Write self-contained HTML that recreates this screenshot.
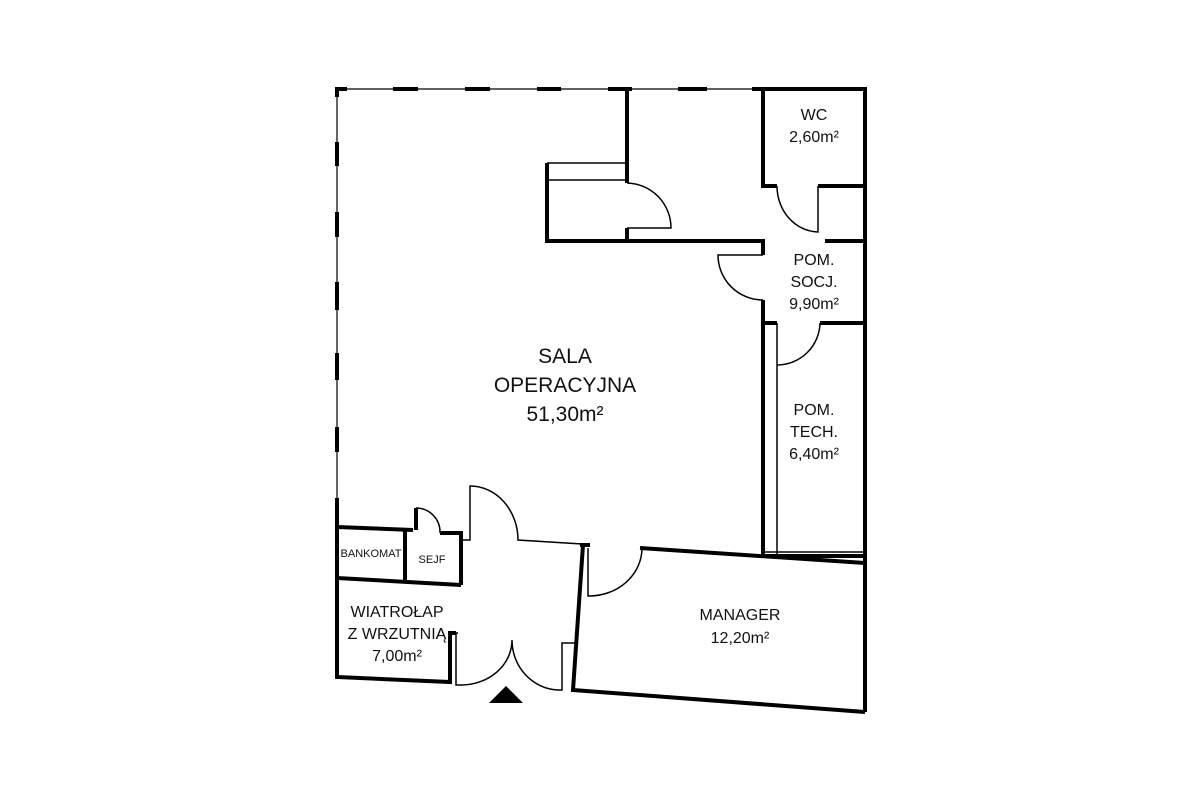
<!DOCTYPE html>
<html><head><style>
body{margin:0;background:#fff}
svg{display:block}
text{font-family:"Liberation Sans",sans-serif;fill:#111;text-anchor:middle}
</style></head><body>
<svg width="1200" height="800" viewBox="0 0 1200 800">
<g fill="none" stroke="#000" stroke-linecap="butt">
<!-- glass walls -->
<line x1="337" y1="89" x2="763" y2="89" stroke-width="1.2"/>
<line x1="337" y1="89" x2="337" y2="527" stroke-width="1.2"/>
<g stroke-width="4">
<path d="M335,89 H347 M393,89 H418 M465,89 H490 M537,89 H561 M608,89 H632 M678,89 H707 M752,89 H765"/>
<path d="M337,87 V97 M337,142 V166 M337,212 V237 M337,282 V310 M337,353 V380 M337,427 V452 M337,498 V527"/>
</g>
<!-- thick walls -->
<g stroke-width="4">
<polyline points="763,89 865,89 865,565"/>
<line x1="865" y1="563" x2="865" y2="712"/>
<polyline points="627,89 627,183"/>
<line x1="627" y1="228" x2="627" y2="241"/>
<polyline points="547,163 547,241 763,241 763,255"/>
<line x1="763" y1="300" x2="763" y2="556"/>
<polyline points="763,89 763,186 777,186"/>
<line x1="818" y1="186" x2="865" y2="186"/>
<line x1="825" y1="241" x2="865" y2="241"/>
<line x1="763" y1="323" x2="777" y2="323"/>
<line x1="820" y1="323" x2="865" y2="323"/>
<line x1="763" y1="556" x2="865" y2="556"/>
<line x1="640" y1="548" x2="865" y2="563"/>
<polyline points="583,545 573,690 865,712"/>
<line x1="580" y1="545" x2="590" y2="545"/>
<polyline points="337,527 337,677 450,682 450,633 456,633"/>
<line x1="337" y1="527" x2="413" y2="530"/>
<line x1="416" y1="530" x2="416" y2="508"/>
<polyline points="440,533 461,533 461,585"/>
<line x1="337" y1="578" x2="461" y2="585"/>
<line x1="405" y1="530" x2="405" y2="580"/>
</g>
<!-- thin lines -->
<g stroke-width="1.5">
<line x1="547" y1="163" x2="627" y2="163"/>
<line x1="547" y1="180" x2="627" y2="180"/>
<path d="M627,183 A45,45 0 0 1 671,228 L627,228"/>
<path d="M777,186 A42,46 0 0 0 818,232 L818,186"/>
<path d="M763,255 L718,255 A45,45 0 0 0 763,300"/>
<path d="M820,323 A43,43 0 0 1 777,365 L777,323 L777,556"/>
<line x1="763" y1="552" x2="865" y2="552"/>
<path d="M588,548 L588,596 A53,48 0 0 0 642,548"/>
<path d="M416,508 A24,24 0 0 1 440,533"/>
<path d="M461,540 L470,540 L470,486 A48,54 0 0 1 518,540 L582,544"/>
<path d="M456,633 L456,685 L462,685 A51,45 0 0 0 512,640 A48,50 0 0 0 558,690 L562,690 L562,643 L575,643"/>
<line x1="450" y1="633" x2="458" y2="633"/>
</g>
</g>
<polygon points="489,703 523,703 506,686" fill="#000"/>
<g font-size="21">
<text x="565" y="363">SALA</text>
<text x="565" y="392">OPERACYJNA</text>
<text x="565" y="421">51,30m²</text>
</g>
<g font-size="16">
<text x="814" y="120">WC</text>
<text x="814" y="142">2,60m²</text>
<text x="814" y="265">POM.</text>
<text x="814" y="287">SOCJ.</text>
<text x="814" y="309">9,90m²</text>
<text x="814" y="415">POM.</text>
<text x="814" y="437">TECH.</text>
<text x="814" y="459">6,40m²</text>
<text x="740" y="620">MANAGER</text>
<text x="740" y="643">12,20m²</text>
<text x="397" y="617">WIATROŁAP</text>
<text x="397" y="639">Z WRZUTNIĄ</text>
<text x="397" y="661">7,00m²</text>
</g>
<text x="371" y="557" font-size="11">BANKOMAT</text>
<text x="432" y="563" font-size="11">SEJF</text>
</svg>
</body></html>
